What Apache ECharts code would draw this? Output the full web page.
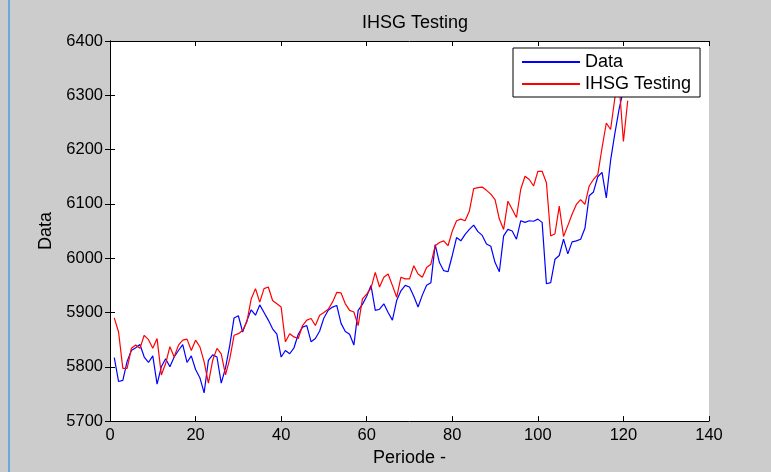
<!DOCTYPE html>
<html><head><meta charset="utf-8">
<script src="https://cdn.jsdelivr.net/npm/echarts@6/dist/echarts.min.js"></script>
<style>html,body{margin:0;padding:0;background:#cccccc;}#c{width:771px;height:472px;}</style>
</head><body><div id="c"></div>
<script>
const titleText = 'IHSG Testing';
const xName = 'Periode -';
const yName = 'Data';
const seriesNames = ['Data', 'IHSG Testing'];
const xTicks = [0, 20, 40, 60, 80, 100, 120, 140];
const yTicks = [5700, 5800, 5900, 6000, 6100, 6200, 6300, 6400];

const dataValues = [
5817,5773,5775,5810,5830,5835,5841,5818,5808,5820,
5768,5800,5815,5800,5818,5830,5841,5808,5820,5795,
5780,5752,5812,5822,5818,5770,5798,5840,5890,5894,
5864,5885,5905,5895,5914,5900,5886,5870,5860,5818,
5830,5824,5835,5860,5873,5876,5846,5852,5866,5890,
5904,5910,5913,5880,5865,5860,5840,5904,5915,5930,
5950,5904,5906,5916,5900,5886,5922,5940,5950,5947,
5930,5910,5932,5950,5955,6025,5992,5977,5975,6005,
6038,6032,6044,6053,6061,6049,6042,6026,6022,5992,
5975,6041,6053,6050,6035,6069,6066,6069,6068,6072,
6066,5953,5955,5998,6005,6035,6008,6030,6032,6035,
6055,6115,6122,6150,6158,6111,6180,6230,6275,6310,
6340];

const testingValues = [
5890,5864,5797,5797,5834,5840,5834,5858,5850,5834,
5852,5785,5806,5837,5818,5840,5849,5851,5830,5849,
5837,5809,5770,5812,5834,5824,5785,5815,5858,5861,
5867,5883,5925,5944,5919,5944,5947,5922,5916,5910,
5846,5861,5855,5852,5876,5886,5889,5876,5895,5900,
5906,5919,5937,5936,5916,5904,5901,5876,5925,5934,
5945,5974,5947,5965,5971,5950,5928,5965,5962,5962,
5986,5971,5965,5983,5989,6023,6029,6032,6023,6050,
6069,6072,6069,6087,6128,6130,6131,6125,6118,6108,
6072,6053,6105,6090,6075,6127,6151,6145,6133,6160,
6160,6139,6041,6045,6096,6040,6060,6081,6099,6108,
6099,6133,6145,6154,6203,6249,6237,6295,6320,6215,
6290];

const toPairs = arr => arr.map((v, i) => [i + 1, v]);
const font = 'Liberation Sans, Arial, sans-serif';
const chart = echarts.init(document.getElementById('c'), null, {renderer: 'canvas'});
const axLine = {show: true, lineStyle: {color: '#000', width: 1}};
const tick = {show: true, inside: true, length: 5, lineStyle: {color: '#000'}};
chart.setOption({
  backgroundColor: '#cccccc',
  animation: false,
  title: {text: titleText, left: 410, textAlign: 'center', top: 9,
    textStyle: {fontFamily: font, fontSize: 18, fontWeight: 'normal', color: '#000'}},
  graphic: [{type: 'rect', left: 8, top: 0, shape: {width: 2, height: 472}, style: {fill: '#6ea7dc'}, z: 100}],
  grid: {left: 110, right: 62, top: 41, bottom: 49, show: true, backgroundColor: '#fff', borderWidth: 0},
  legend: {
    orient: 'vertical', left: 513, top: 48,
    data: seriesNames,
    backgroundColor: '#fff', borderColor: '#000', borderWidth: 1,
    padding: [5, 9, 4, 8], itemWidth: 58, itemHeight: 14, itemGap: 4, itemStyle: {opacity: 0},
    textStyle: {fontFamily: font, fontSize: 18, color: '#000'}
  },
  xAxis: [
    {type: 'value', min: xTicks[0], max: xTicks[xTicks.length - 1], interval: 20, position: 'bottom',
     axisLine: axLine, axisTick: tick, splitLine: {show: false},
     axisLabel: {fontFamily: font, fontSize: 16.5, color: '#000', margin: 6},
     name: xName, nameLocation: 'middle', nameGap: 26,
     nameTextStyle: {fontFamily: font, fontSize: 18, color: '#000'}},
    {type: 'value', min: xTicks[0], max: xTicks[xTicks.length - 1], interval: 20, position: 'top',
     axisLine: axLine, axisTick: tick, splitLine: {show: false}, axisLabel: {show: false}}
  ],
  yAxis: [
    {type: 'value', min: yTicks[0], max: yTicks[yTicks.length - 1], interval: 100, position: 'left',
     axisLine: axLine, axisTick: tick, splitLine: {show: false},
     axisLabel: {fontFamily: font, fontSize: 16.5, color: '#000', margin: 7, formatter: v => String(v)},
     name: yName, nameLocation: 'middle', nameGap: 54, nameRotate: 90,
     nameTextStyle: {fontFamily: font, fontSize: 18, color: '#000'}},
    {type: 'value', min: yTicks[0], max: yTicks[yTicks.length - 1], interval: 100, position: 'right',
     axisLine: axLine, axisTick: tick, splitLine: {show: false}, axisLabel: {show: false}}
  ],
  series: [
    {name: seriesNames[0], type: 'line', data: toPairs(dataValues), symbol: 'none', showSymbol: false,
     lineStyle: {color: '#0000ff', width: 1.2}, itemStyle: {color: '#0000ff'}, z: 2},
    {name: seriesNames[1], type: 'line', data: toPairs(testingValues), symbol: 'none', showSymbol: false,
     lineStyle: {color: '#ff0000', width: 1.2}, itemStyle: {color: '#ff0000'}, z: 3}
  ]
});
</script></body></html>
